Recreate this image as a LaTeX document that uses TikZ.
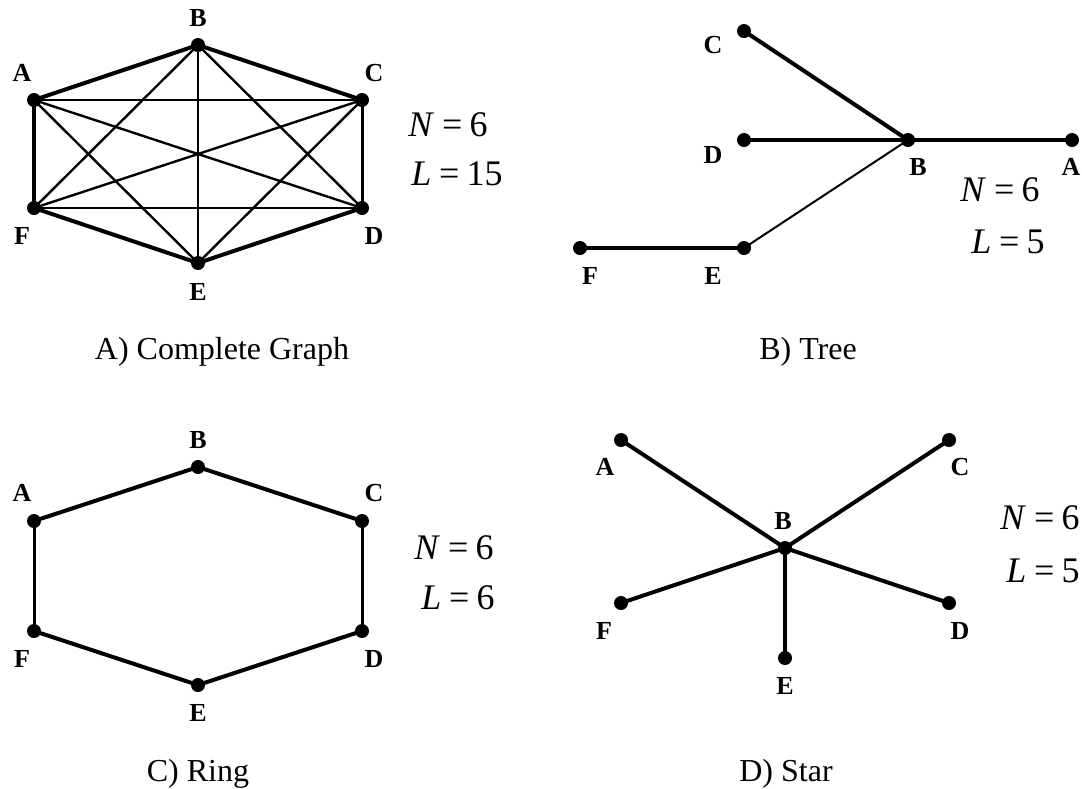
\documentclass[tikz,border=0pt]{standalone}
\usepackage{fontspec}
\setmainfont{Liberation Serif}
\begin{document}
\begin{tikzpicture}[x=1pt,y=-1pt,
  vtx/.style={circle,fill=black,inner sep=0pt,minimum size=14pt},
  lbl/.style={font=\fontsize{26}{28}\selectfont\bfseries,inner sep=0pt},
  captxt/.style={font=\fontsize{32}{36}\selectfont,inner sep=0pt},
  eqn/.style={font=\fontsize{36}{40}\selectfont,inner sep=0pt},
  thick edge/.style={line width=4pt},
  mid edge/.style={line width=3pt},
  thin edge/.style={line width=2.4pt}]
\useasboundingbox (0,0) rectangle (1082,788);
\newcommand{\eqtxt}[2]{\textit{#1}\hspace{0.22em}=\hspace{0.2em}#2}
% ---------- A) Complete graph ----------
\node[vtx] (a1) at (34,100) {};
\node[vtx] (b1) at (198,45) {};
\node[vtx] (c1) at (362,100) {};
\node[vtx] (d1) at (362,208) {};
\node[vtx] (e1) at (198,263) {};
\node[vtx] (f1) at (34,208) {};
\node[lbl] (la1) at (22,73) {A};
\node[lbl] (lb1) at (198,18) {B};
\node[lbl] (lc1) at (374,73) {C};
\node[lbl] (ld1) at (374,236) {D};
\node[lbl] (le1) at (198,292) {E};
\node[lbl] (lf1) at (22,236) {F};
\draw[thick edge] (a1.center) -- (b1.center);
\draw[thick edge] (b1.center) -- (c1.center);
\draw[mid edge] (c1.center) -- (d1.center);
\draw[thick edge] (d1.center) -- (e1.center);
\draw[thick edge] (e1.center) -- (f1.center);
\draw[thick edge] (f1.center) -- (a1.center);
\draw[thin edge] (a1.center) -- (c1.center);
\draw[thin edge] (a1.center) -- (d1.center);
\draw[thin edge] (a1.center) -- (e1.center);
\draw[thin edge] (b1.center) -- (d1.center);
\draw[thin edge] (b1.center) -- (e1.center);
\draw[thin edge] (b1.center) -- (f1.center);
\draw[thin edge] (c1.center) -- (e1.center);
\draw[thin edge] (c1.center) -- (f1.center);
\draw[thin edge] (d1.center) -- (f1.center);
\node[eqn] (n1) at (448,125) {\eqtxt{N}{6}};
\node[eqn] (l1) at (457,174) {\eqtxt{L}{15}};
\node[captxt] (cap1) at (222,352) {A) Complete Graph};
% ---------- B) Tree ----------
\node[vtx] (c2) at (744,31) {};
\node[vtx] (d2) at (744,140) {};
\node[vtx] (b2) at (908,140) {};
\node[vtx] (a2) at (1072,140) {};
\node[vtx] (e2) at (744,248) {};
\node[vtx] (f2) at (580,248) {};
\node[lbl] (lc2) at (713,45) {C};
\node[lbl] (ld2) at (713,155) {D};
\node[lbl] (lb2) at (918,167) {B};
\node[lbl] (la2) at (1071,167) {A};
\node[lbl] (lf2) at (590,276) {F};
\node[lbl] (le2) at (713,276) {E};
\draw[thick edge] (c2.center) -- (b2.center);
\draw[thick edge] (d2.center) -- (b2.center);
\draw[thick edge] (b2.center) -- (a2.center);
\draw[line width=2pt] (b2.center) -- (e2.center);
\draw[thick edge] (e2.center) -- (f2.center);
\node[eqn] (n2) at (1000,190) {\eqtxt{N}{6}};
\node[eqn] (l2) at (1008,242) {\eqtxt{L}{5}};
\node[captxt] (cap2) at (808,352) {B) Tree};
% ---------- C) Ring ----------
\node[vtx] (a3) at (34,521) {};
\node[vtx] (b3) at (198,467) {};
\node[vtx] (c3) at (362,521) {};
\node[vtx] (d3) at (362,631) {};
\node[vtx] (e3) at (198,685) {};
\node[vtx] (f3) at (34,631) {};
\node[lbl] (lb3) at (198,440) {B};
\node[lbl] (la3) at (22,493) {A};
\node[lbl] (lc3) at (374,493) {C};
\node[lbl] (lf3) at (22,659) {F};
\node[lbl] (ld3) at (374,659) {D};
\node[lbl] (le3) at (198,713) {E};
\draw[thick edge] (a3.center) -- (b3.center);
\draw[thick edge] (b3.center) -- (c3.center);
\draw[mid edge] (c3.center) -- (d3.center);
\draw[thick edge] (d3.center) -- (e3.center);
\draw[thick edge] (e3.center) -- (f3.center);
\draw[mid edge] (f3.center) -- (a3.center);
\node[eqn] (n3) at (454,548) {\eqtxt{N}{6}};
\node[eqn] (l3) at (458,598) {\eqtxt{L}{6}};
\node[captxt] (cap3) at (198,774) {C) Ring};
% ---------- D) Star ----------
\node[vtx] (a4) at (621,440) {};
\node[vtx] (c4) at (949,440) {};
\node[vtx] (b4) at (785,548) {};
\node[vtx] (f4) at (621,603) {};
\node[vtx] (d4) at (949,603) {};
\node[vtx] (e4) at (785,658) {};
\node[lbl] (la4) at (605,467) {A};
\node[lbl] (lc4) at (960,467) {C};
\node[lbl] (lb4) at (783,521) {B};
\node[lbl] (lf4) at (604,631) {F};
\node[lbl] (ld4) at (960,631) {D};
\node[lbl] (le4) at (785,686) {E};
\draw[thick edge] (b4.center) -- (a4.center);
\draw[thick edge] (b4.center) -- (c4.center);
\draw[thick edge] (b4.center) -- (d4.center);
\draw[thick edge] (b4.center) -- (e4.center);
\draw[thick edge] (b4.center) -- (f4.center);
\node[eqn] (n4) at (1040,518) {\eqtxt{N}{6}};
\node[eqn] (l4) at (1043,571) {\eqtxt{L}{5}};
\node[captxt] (cap4) at (786,774) {D) Star};
\end{tikzpicture}
\end{document}
